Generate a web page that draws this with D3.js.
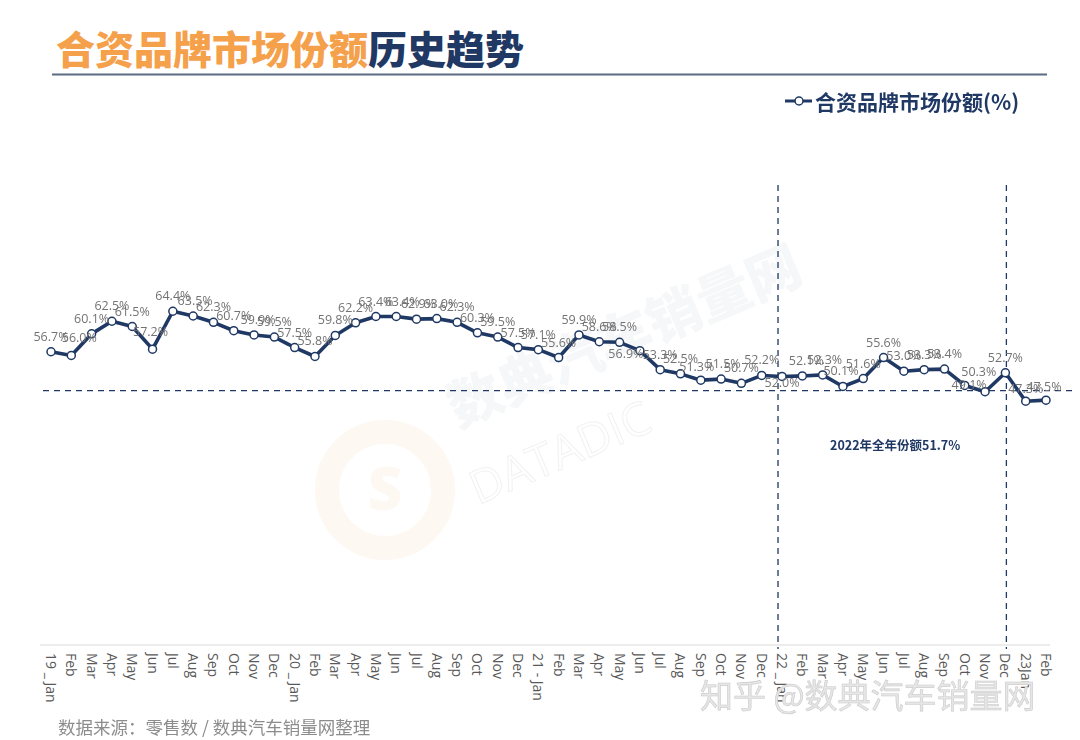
<!DOCTYPE html>
<html><head><meta charset="utf-8">
<script src="https://cdn.jsdelivr.net/npm/d3@7/dist/d3.min.js"></script>
<style>
html,body{margin:0;padding:0;background:#fff;}
svg{display:block;font-family:"Open Sans","Noto Sans CJK SC",sans-serif;}
</style></head>
<body><svg id="c" width="1080" height="740"></svg>
<script>
const categories = [
 "19 _ Jan","Feb","Mar","Apr","May","Jun","Jul","Aug","Sep","Oct","Nov","Dec",
 "20 _ Jan","Feb","Mar","Apr","May","Jun","Jul","Aug","Sep","Oct","Nov","Dec",
 "21 - Jan","Feb","Mar","Apr","May","Jun","Jul","Aug","Sep","Oct","Nov","Dec",
 "22 _ Jan","Feb","Mar","Apr","May","Jun","Jul","Aug","Sep","Oct","Nov","Dec",
 "23Jan","Feb"];
const shareValues = [
 56.7,56.0,60.1,62.5,61.5,57.2,64.4,63.5,62.3,60.7,59.9,59.5,
 57.5,55.8,59.8,62.2,63.4,63.4,62.9,63.0,62.3,60.3,59.5,57.5,
 57.1,55.6,59.9,58.6,58.5,56.9,53.3,52.5,51.3,51.5,50.7,52.2,
 52.0,52.1,52.3,50.1,51.6,55.6,53.0,53.3,53.4,50.3,49.1,52.7,
 47.3,47.5];
const refValue = 49.3;
const refLabel = "2022年全年份额51.7%";
const markIndex = [36, 47];
const seriesName = "合资品牌市场份额(%)";
const titleA = "合资品牌市场份额", titleB = "历史趋势";
const sourceText = "数据来源：零售数  /  数典汽车销量网整理";

// label offsets [dx, dy] relative to point (default above)
const labelAdjust = {1:[8,-2],5:[-2,-2],7:[2,0],10:[4,0],17:[6,0],18:[2,0],19:[4,0],
  29:[-14,18],32:[-4,2],33:[2,0],36:[0,22],37:[4,0],38:[2,0],39:[-2,0],45:[14,2],46:[-16,8],48:[0,3],49:[-2,2]};

const svg = d3.select("#c");
const navy = "#1f3864";

const x = d3.scalePoint().domain(d3.range(categories.length)).range([51, 1046]);
const y = d3.scaleLinear().domain([0, 100]).range([650, 124]);
const axisY = 645;

// title
const t = svg.append("text").attr("x", 56).attr("y", 64)
  .attr("font-family", "'Noto Sans CJK SC',sans-serif").attr("font-weight", 900).attr("font-size", 39);
t.append("tspan").attr("fill", "#f5a04a").text(titleA);
t.append("tspan").attr("fill", navy).text(titleB);
svg.append("line").attr("x1", 52).attr("x2", 1047).attr("y1", 74.5).attr("y2", 74.5)
  .attr("stroke", "#5b6b82").attr("stroke-width", 2);

// watermarks
const wm = svg.append("g").attr("opacity", 0.5);
wm.append("text").attr("transform", "translate(458,428) rotate(-23)")
  .attr("font-family", "'Noto Sans CJK SC',sans-serif").attr("font-weight", 900).attr("font-size", 54)
  .attr("fill", "#eceef2").text("数典汽车销量网");
wm.append("text").attr("transform", "translate(478,505) rotate(-23)")
  .attr("font-family", "'Open Sans',sans-serif").attr("font-size", 46).attr("fill", "none")
  .attr("stroke", "#e4e4e8").attr("stroke-width", 1).text("DATADIC");
wm.append("circle").attr("cx", 385).attr("cy", 490).attr("r", 58).attr("fill", "none")
  .attr("stroke", "#fcf1e7").attr("stroke-width", 24);
wm.append("text").attr("x", 385).attr("y", 510).attr("text-anchor", "middle")
  .attr("font-family", "'Noto Sans',sans-serif").attr("font-weight", 900).attr("font-size", 60)
  .attr("fill", "#fcf1e7").text("S");

// legend
const lg = svg.append("g");
lg.append("line").attr("x1", 785).attr("x2", 812).attr("y1", 101).attr("y2", 101)
  .attr("stroke", navy).attr("stroke-width", 3);
lg.append("circle").attr("cx", 799).attr("cy", 101).attr("r", 4)
  .attr("fill", "#fff").attr("stroke", navy).attr("stroke-width", 1.5);
lg.append("text").attr("x", 815).attr("y", 110)
  .attr("font-family", "'Noto Sans CJK SC',sans-serif").attr("font-weight", 700).attr("font-size", 21)
  .attr("fill", navy).text(seriesName);

// axis line
svg.append("line").attr("x1", 40).attr("x2", 1050).attr("y1", axisY).attr("y2", axisY)
  .attr("stroke", "#d9d9d9").attr("stroke-width", 1.2);

// x labels
svg.append("g").selectAll("text").data(categories).join("text")
  .attr("transform", (d, i) => `translate(${x(i) - 5},${axisY + 8}) rotate(90)`)
  .attr("font-size", 14).attr("fill", "#595959").attr("text-anchor", "start")
  .text(d => d);

// reference line
svg.append("line").attr("x1", 43).attr("x2", 1076).attr("y1", y(refValue)).attr("y2", y(refValue))
  .attr("stroke", navy).attr("stroke-width", 1.3).attr("stroke-dasharray", "6,5");
svg.append("text").attr("x", 830).attr("y", 450)
  .attr("font-family", "'Noto Sans CJK SC',sans-serif").attr("font-weight", 700).attr("font-size", 12.5)
  .attr("fill", navy).text(refLabel);

// vertical dashed markers
const vOff = [-4, 1];
markIndex.forEach((mi, k) => {
  svg.append("line").attr("x1", x(mi) + vOff[k]).attr("x2", x(mi) + vOff[k])
    .attr("y1", 185).attr("y2", axisY + 4)
    .attr("stroke", navy).attr("stroke-width", 1.3).attr("stroke-dasharray", "6,5");
});

// line
const line = d3.line().x((d, i) => x(i)).y(d => y(d));
svg.append("path").datum(shareValues).attr("d", line).attr("fill", "none")
  .attr("stroke", navy).attr("stroke-width", 3.6).attr("stroke-linejoin", "round");
svg.append("g").selectAll("circle").data(shareValues).join("circle")
  .attr("cx", (d, i) => x(i)).attr("cy", d => y(d)).attr("r", 4)
  .attr("fill", "#fff").attr("stroke", navy).attr("stroke-width", 1.5);

// data labels
svg.append("g").selectAll("text").data(shareValues).join("text")
  .attr("x", (d, i) => x(i) + (labelAdjust[i] ? labelAdjust[i][0] : 0))
  .attr("y", (d, i) => y(d) - 11 + (labelAdjust[i] ? labelAdjust[i][1] : 0))
  .attr("text-anchor", "middle").attr("font-size", 12.5).attr("fill", "#737373")
  .text(d => d.toFixed(1) + "%");

// bottom watermark & source
svg.append("text").attr("x", 700).attr("y", 708)
  .attr("font-family", "'Noto Sans CJK SC',sans-serif").attr("font-size", 33)
  .attr("fill", "#e6e6e6").attr("stroke", "#cccccc").attr("stroke-width", 0.6)
  .text("知乎 @数典汽车销量网");
svg.append("text").attr("x", 58).attr("y", 734)
  .attr("font-family", "'Noto Sans CJK SC',sans-serif").attr("font-size", 17.5)
  .attr("fill", "#8c8c8c").text(sourceText);
</script></body></html>
